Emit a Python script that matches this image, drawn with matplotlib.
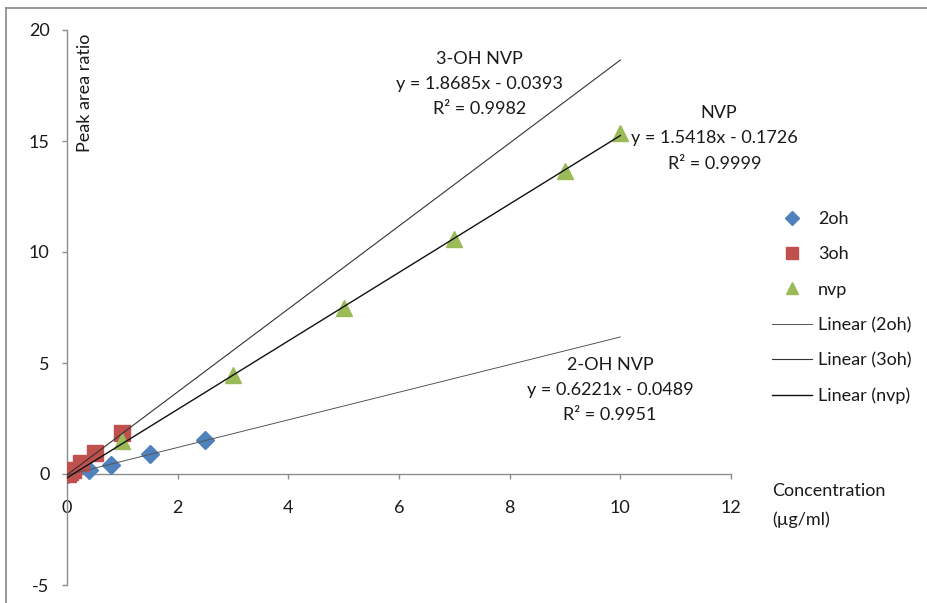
import numpy as np
import matplotlib
matplotlib.use('Agg')
import matplotlib.pyplot as plt
from matplotlib.lines import Line2D

# data
x_2oh = [0.02, 0.05, 0.1, 0.4, 0.8, 1.5, 2.5]
y_2oh = [0.0, 0.03, 0.06, 0.2, 0.4, 0.92, 1.55]

x_3oh = [0.02, 0.05, 0.1, 0.25, 0.5, 1.0]
y_3oh = [0.01, 0.08, 0.17, 0.48, 0.95, 1.85]

x_nvp = [1, 3, 5, 7, 9, 10]
y_nvp = [1.5, 4.45, 7.5, 10.6, 13.65, 15.35]

# trendline coefficients (slope, intercept) as printed on the chart
fit_2oh = [0.6221, -0.0489]
fit_3oh = [1.8685, -0.0393]
fit_nvp = [1.5418, -0.1726]
trend_range = [0, 10]

plt.rcParams['font.family'] = ['Lato', 'DejaVu Sans']
plt.rcParams['axes.unicode_minus'] = False

fig = plt.figure(figsize=(9.28, 6.03), dpi=100)
ax = fig.add_axes([67/928, 18/603, 664/928, 555/603])

ax.plot(x_2oh, y_2oh, 'D', color='#4F81BD', ms=9, mec='#4F81BD', label='2oh', zorder=3)
ax.plot(x_3oh, y_3oh, 's', color='#C0504D', ms=11, mec='#C0504D', label='3oh', zorder=3)
ax.plot(x_nvp, y_nvp, '^', color='#9BBB59', ms=11, mec='#9BBB59', label='nvp', zorder=3)

xt = np.array(trend_range)
ax.plot(xt, fit_2oh[0]*xt + fit_2oh[1], color='#555555', lw=0.7, label='Linear (2oh)', zorder=4)
ax.plot(xt, fit_3oh[0]*xt + fit_3oh[1], color='#333333', lw=0.8, label='Linear (3oh)', zorder=4)
ax.plot(xt, fit_nvp[0]*xt + fit_nvp[1], color='#111111', lw=1.0, label='Linear (nvp)', zorder=4)

ax.set_xlim(0, 12)
ax.set_ylim(-5, 20)
ax.set_xticks(range(0, 13, 2))
ax.set_yticks(range(-5, 21, 5))

fs = 13
tc = '#1a1a1a'

for s in ['top', 'right']:
    ax.spines[s].set_visible(False)
ax.spines['bottom'].set_position(('data', 0))
for s in ['left', 'bottom']:
    ax.spines[s].set_color('#8C8C8C')
    ax.spines[s].set_linewidth(1.0)
ax.tick_params(axis='y', direction='out', length=3.6, width=1.0, color='#8C8C8C',
               pad=9, labelsize=fs, labelcolor=tc)
ax.tick_params(axis='x', direction='out', length=3.6, width=1.0, color='#8C8C8C',
               pad=15, labelsize=fs, labelcolor=tc)
ax.set_facecolor('none')

ax.text(0.32, 19.85, 'Peak area ratio', rotation=90, ha='center', va='top', fontsize=fs, color=tc)
ax.text(12.75, -0.4, 'Concentration\n(\u00b5g/ml)', ha='left', va='top', fontsize=fs,
        color=tc, linespacing=1.95, clip_on=False)

ax.text(7.46, 17.57, '3-OH NVP\ny = 1.8685x - 0.0393\nR\u00b2 = 0.9982', ha='center', va='center',
        fontsize=fs, color=tc, linespacing=1.7)
ax.text(11.77, 16.26, 'NVP', ha='center', va='center', fontsize=fs, color=tc)
ax.text(11.7, 14.55, 'y = 1.5418x - 0.1726\nR\u00b2 = 0.9999', ha='center', va='center',
        fontsize=fs, color=tc, linespacing=1.7)
ax.text(9.81, 3.78, '2-OH NVP\ny = 0.6221x - 0.0489\nR\u00b2 = 0.9951', ha='center', va='center',
        fontsize=fs, color=tc, linespacing=1.7)

leg = ax.legend(loc='upper left', bbox_to_anchor=(1.062, 0.674), frameon=False,
                fontsize=fs, labelcolor=tc, handlelength=2.2, handletextpad=0.35,
                labelspacing=1.07, borderaxespad=0, borderpad=0, markerscale=0.75)

# outer chart border (only top and left visible in the crop)
fig.add_artist(Line2D([6/928, 1], [1-8/603, 1-8/603], color='#888888', lw=1.2))
fig.add_artist(Line2D([6/928, 6/928], [0, 1-8/603], color='#888888', lw=1.2))

fig.savefig('out.png', dpi=100, facecolor='white')
